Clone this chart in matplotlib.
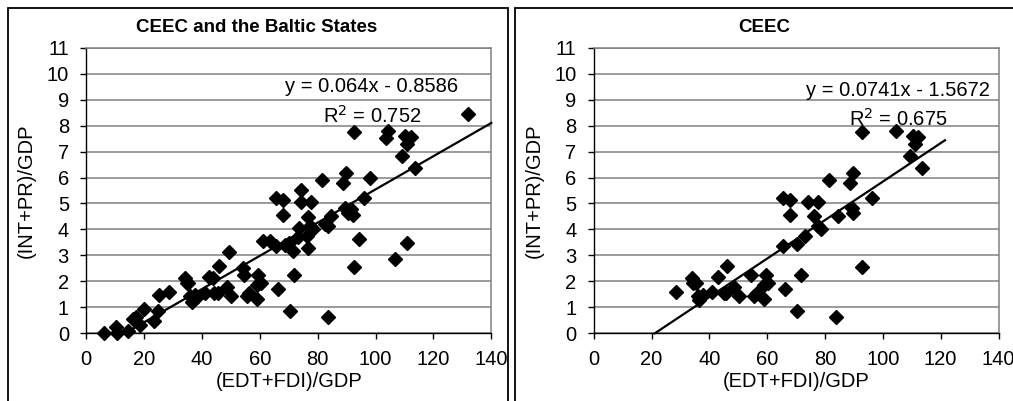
import matplotlib
matplotlib.use("Agg")
import matplotlib.pyplot as plt
from matplotlib.patches import Rectangle
import numpy as np

plt.rcParams['font.family'] = ['Liberation Sans', 'DejaVu Sans']

# ---- data ----
titles = ["CEEC and the Baltic States", "CEEC"]
x_label = "(EDT+FDI)/GDP"
y_label = "(INT+PR)/GDP"
x_ticks = [0, 20, 40, 60, 80, 100, 120, 140]
y_ticks = [0, 1, 2, 3, 4, 5, 6, 7, 8, 9, 10, 11]

left_x = [6.3, 10.2, 10.6, 14.6, 16.3, 17.3, 18.7, 20.0, 23.6, 24.8, 25.3, 28.7,
          34.2, 34.8, 35.3, 35.9, 36.5, 37.6, 38.2, 41.1, 42.6, 44.0, 44.3, 45.7,
          45.9, 48.6, 49.5, 50.1, 54.3, 54.7, 55.7, 56.4, 58.9, 59.5, 59.2, 60.3,
          61.2, 63.6, 65.5, 65.6, 66.2, 68.2, 68.2, 68.7, 70.2, 70.5, 71.4, 71.8,
          73.1, 73.6, 74.1, 74.3, 76.6, 76.5, 76.8, 77.6, 77.4, 78.5, 81.4, 82.5,
          83.7, 83.7, 84.8, 88.9, 89.8, 89.6, 90.4, 91.7, 92.3, 92.7, 92.7, 94.3,
          96.0, 98.1, 103.5, 104.2, 106.7, 109.3, 110.2, 111.0, 110.8, 112.1, 113.6, 132.1]
left_y = [0.0, 0.26, 0.03, 0.10, 0.54, 0.64, 0.32, 0.92, 0.49, 0.87, 1.48, 1.60,
          2.12, 1.93, 1.95, 1.44, 1.22, 1.48, 1.41, 1.57, 2.16, 2.14, 1.57, 1.54,
          2.60, 1.77, 3.12, 1.44, 2.53, 2.25, 1.44, 1.57, 1.31, 2.25, 1.86, 1.95,
          3.57, 3.57, 5.20, 3.36, 1.69, 5.13, 4.56, 3.40, 3.47, 0.87, 3.18, 2.25,
          3.70, 4.04, 5.52, 5.07, 3.27, 3.76, 4.49, 5.07, 4.13, 4.00, 5.90, 4.21,
          4.13, 0.64, 4.52, 5.80, 6.19, 4.81, 4.65, 4.78, 4.56, 7.77, 2.57, 3.62,
          5.20, 6.00, 7.51, 7.79, 2.86, 6.83, 7.60, 7.29, 3.49, 7.57, 6.35, 8.43]

right_x = [28.5, 33.9, 34.5, 35.3, 35.9, 36.4, 37.7, 40.8, 43.1, 44.9, 45.7, 46.0,
           48.6, 50.1, 54.3, 55.6, 56.4, 59.0, 59.5, 59.0, 60.2, 65.6, 65.6, 66.2,
           67.9, 67.9, 70.2, 70.2, 71.7, 73.1, 74.0, 76.3, 77.5, 77.7, 78.7, 81.4,
           83.8, 84.6, 88.7, 89.8, 89.3, 89.8, 92.7, 92.7, 96.2, 104.5, 109.4, 110.3,
           111.2, 112.3, 113.5]
right_y = [1.60, 2.12, 1.95, 1.93, 1.44, 1.28, 1.48, 1.60, 2.16, 1.54, 1.54, 2.60,
           1.77, 1.44, 2.25, 1.44, 1.57, 1.31, 2.25, 1.86, 1.95, 5.20, 3.36, 1.69,
           5.13, 4.56, 3.43, 0.87, 2.25, 3.75, 5.07, 4.52, 5.07, 4.13, 4.00, 5.90,
           0.64, 4.52, 5.80, 6.19, 4.81, 4.65, 7.77, 2.57, 5.20, 7.79, 6.83, 7.60,
           7.29, 7.57, 6.35]

# trendline: slope, intercept, end of drawn line, equation text, R2 text
fits = [
    (0.064, -0.8586, 140.0, "y = 0.064x - 0.8586", "R$^2$ = 0.752"),
    (0.0741, -1.5672, 121.5, "y = 0.0741x - 1.5672", "R$^2$ = 0.675"),
]
datasets = [(left_x, left_y), (right_x, right_y)]

W, H = 1013, 401
fig = plt.figure(figsize=(W / 100, H / 100), dpi=100)

# panel frames
for (x0, x1) in [(8, 508), (515, 1030)]:
    fig.add_artist(Rectangle((x0 / W, -0.2), (x1 - x0) / W, 1.2 - 8 / H,
                             transform=fig.transFigure, fill=False,
                             edgecolor="black", linewidth=1.3))

axes_px = [(86, 491.3), (593.7, 998.5)]
top_px, bot_px = 47.7, 333.3
eq_pos = [((371.7, 87), (372, 116)), ((898, 90), (898, 119))]
title_pos = [257, 764]

for i, ((ax0, ax1), (xs, ys), fit) in enumerate(zip(axes_px, datasets, fits)):
    ax = fig.add_axes([ax0 / W, (H - bot_px) / H, (ax1 - ax0) / W, (bot_px - top_px) / H])
    ax.set_xlim(0, 140)
    ax.set_ylim(0, 11)
    ax.set_xticks(x_ticks)
    ax.set_yticks(y_ticks)
    ax.yaxis.grid(True, color="#808080", linewidth=1.1)
    ax.set_axisbelow(True)
    for s in ["top", "right"]:
        ax.spines[s].set_color("#808080")
        ax.spines[s].set_linewidth(1.1)
    for s in ["left", "bottom"]:
        ax.spines[s].set_color("black")
        ax.spines[s].set_linewidth(1.0)
    ax.tick_params(direction="out", length=4.3, width=1.0, labelsize=14.5, pad=8)
    ax.set_xlabel(x_label, fontsize=14.5, labelpad=2)
    ax.set_ylabel(y_label, fontsize=14.5, labelpad=8)

    ax.plot(xs, ys, linestyle="none", marker="D", markersize=7.5,
            color="black", clip_on=False, zorder=3)
    slope, icpt, xend, eq, r2 = fit
    xstart = -icpt / slope
    lx = np.array([xstart, xend])
    ax.plot(lx, slope * lx + icpt, color="black", linewidth=1.6, zorder=4, clip_on=False)

    (ex, ey), (rx, ry) = eq_pos[i]
    fig.text(ex / W, 1 - ey / H, eq, ha="center", va="center", fontsize=14.5)
    fig.text(rx / W, 1 - ry / H, r2, ha="center", va="center", fontsize=14.5)
    fig.text(title_pos[i] / W, 1 - 28 / H, titles[i], ha="center", va="center",
             fontsize=13.5, fontweight="bold")

fig.savefig("out.png", dpi=100)
